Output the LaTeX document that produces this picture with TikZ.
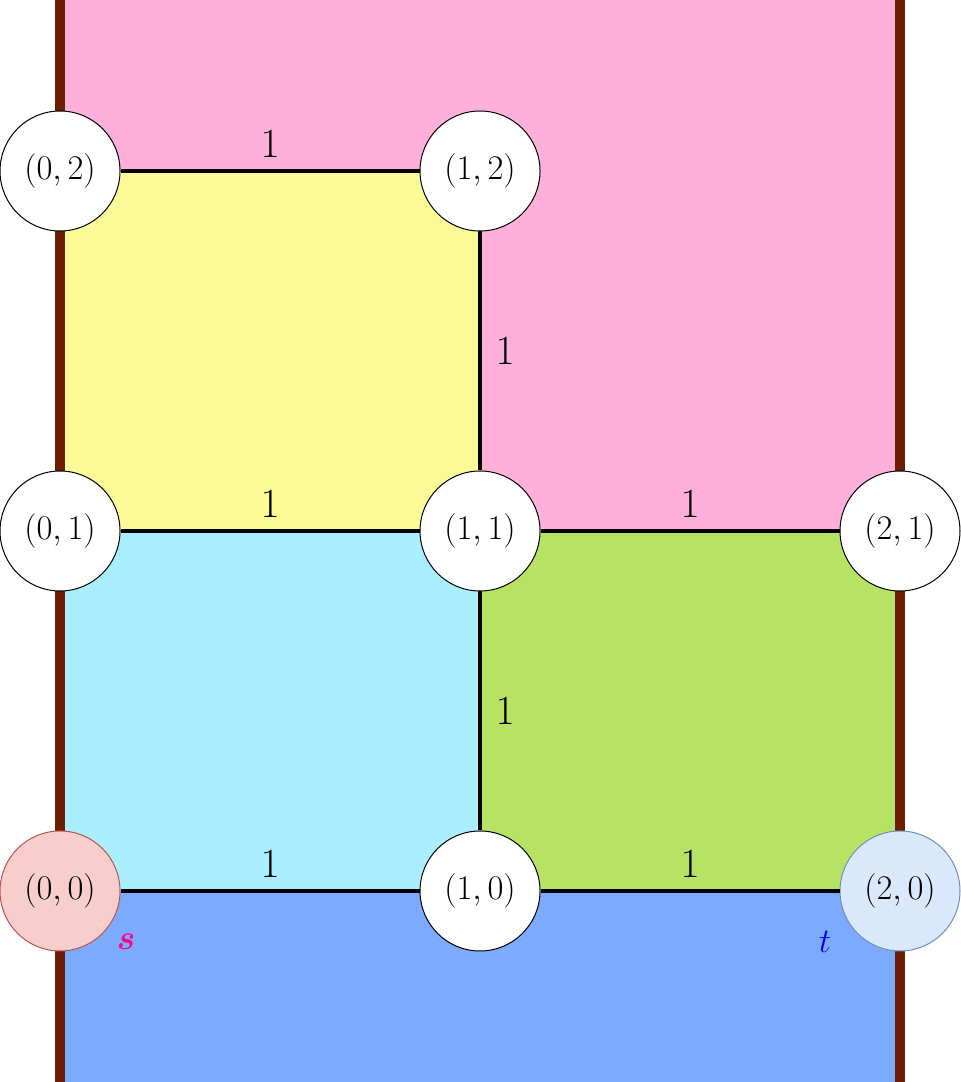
\documentclass[tikz,border=0pt]{standalone}
\usepackage{amsmath}
\usepackage{xcolor}
\usepackage{tikz}
\usetikzlibrary{positioning}
\definecolor{FacePink}{HTML}{FFB0DA}
\definecolor{FaceYellow}{HTML}{FCFA96}
\definecolor{FaceCyan}{HTML}{A8EEFF}
\definecolor{FaceGreen}{HTML}{B6E364}
\definecolor{FaceBlue}{HTML}{7CAAFF}
\definecolor{WallBrown}{HTML}{6E1E00}
\definecolor{SourceFill}{HTML}{F8CECC}
\definecolor{SourceDraw}{HTML}{B85450}
\definecolor{SinkFill}{HTML}{DAE8FC}
\definecolor{SinkDraw}{HTML}{6C8EBF}
\definecolor{SourceText}{HTML}{FF0080}
\tikzset{
  vertex/.style={
    circle,
    draw=black,
    fill=white,
    line width=.5pt,
    minimum size=60pt,
    inner sep=0pt,
    font=\fontsize{16}{19}\selectfont
  },
  source/.style={vertex,fill=SourceFill,draw=SourceDraw},
  sink/.style={vertex,fill=SinkFill,draw=SinkDraw},
  edge/.style={draw=black,line width=2pt},
  weight/.style={font=\fontsize{20.5}{24}\selectfont},
  hweight/.style={weight,above=2.5pt},
  vweight/.style={weight,right=3.5pt},
  wall/.style={draw=WallBrown,line width=5pt}
}

\begin{document}
\begin{tikzpicture}[x=210pt,y=180pt]
  \useasboundingbox (-0.1429,-0.5306) rectangle (2.1452,2.475);

  % Faces of the grid.
  \fill[FacePink]   (0,1) rectangle (2,2.475);
  \fill[FaceYellow] (0,1) rectangle (1,2);
  \fill[FaceCyan]   (0,0) rectangle (1,1);
  \fill[FaceGreen]  (1,0) rectangle (2,1);
  \fill[FaceBlue]   (0,-0.5306) rectangle (2,0);

  % Outer walls.
  \coordinate (wl1) at (0,2.475);
  \coordinate (wl2) at (0,-0.5306);
  \coordinate (wr1) at (2,2.475);
  \coordinate (wr2) at (2,-0.5306);
  \draw[wall] (wl1) -- (wl2);
  \draw[wall] (wr1) -- (wr2);

  % Grid vertices.
  \node[source] (v00) at (0,0) {$(0,0)$};
  \node[vertex] (v10) at (1,0) {$(1,0)$};
  \node[sink]   (v20) at (2,0) {$(2,0)$};
  \node[vertex] (v01) at (0,1) {$(0,1)$};
  \node[vertex] (v11) at (1,1) {$(1,1)$};
  \node[vertex] (v21) at (2,1) {$(2,1)$};
  \node[vertex] (v02) at (0,2) {$(0,2)$};
  \node[vertex] (v12) at (1,2) {$(1,2)$};

  % Weighted edges.
  \draw[edge] (v00) -- node[hweight] {$1$} (v10);
  \draw[edge] (v10) -- node[hweight] {$1$} (v20);
  \draw[edge] (v01) -- node[hweight] {$1$} (v11);
  \draw[edge] (v11) -- node[hweight] {$1$} (v21);
  \draw[edge] (v02) -- node[hweight] {$1$} (v12);
  \draw[edge] (v10) -- node[vweight] {$1$} (v11);
  \draw[edge] (v11) -- node[vweight] {$1$} (v12);

  % Terminals.
  \node[font=\fontsize{16}{19}\selectfont,text=SourceText] (slabel) at ([shift={(33pt,-25.5pt)}]v00.center) {$\boldsymbol{s}$};
  \node[font=\fontsize{17}{20}\selectfont,text=blue] (tlabel) at ([shift={(-37.5pt,-25.5pt)}]v20.center) {$t$};
\end{tikzpicture}
\end{document}
